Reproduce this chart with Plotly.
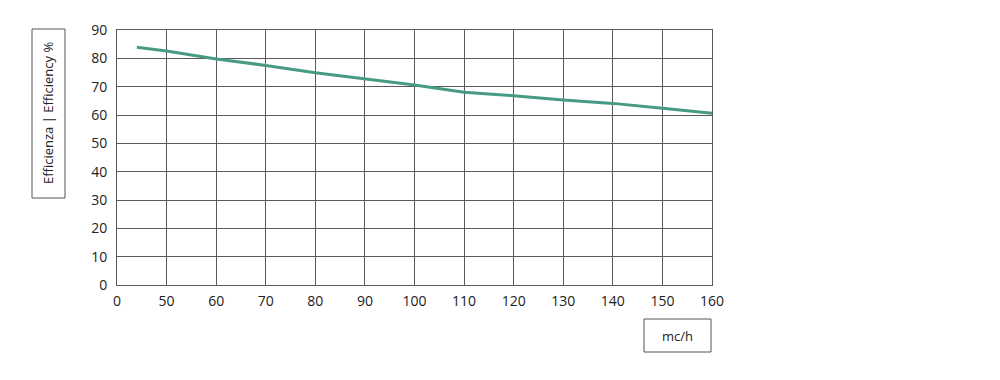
import plotly.graph_objects as go

# Data
flow = [44, 50, 60, 70, 80, 85, 90, 100, 110, 120, 130, 140, 150, 160]
efficiency = [83.9, 82.6, 79.8, 77.5, 74.9, 73.8, 72.6, 70.6, 68.0, 66.8, 65.3, 64.1, 62.4, 60.6]
x_tick_vals = [40, 50, 60, 70, 80, 90, 100, 110, 120, 130, 140, 150, 160]
x_tick_text = ["0", "50", "60", "70", "80", "90", "100", "110", "120", "130", "140", "150", "160"]
y_tick_vals = [0, 10, 20, 30, 40, 50, 60, 70, 80, 90]
y_label = "Efficienza | Efficiency %"
x_label = "mc/h"

W, H = 1000, 380
L, R, T, B = 117, 712, 30, 285

def px_x(p):
    return (p - L) / (R - L)

def px_y(p):
    return (B - p) / (B - T)

fig = go.Figure()
fig.add_trace(go.Scatter(x=flow, y=efficiency, mode="lines",
                         line=dict(color="#479b85", width=3), hoverinfo="skip"))

FAM = "Open Sans, sans-serif"
font = dict(family=FAM, size=14, color="#222222")
grid = "#5a5a5a"
fig.update_layout(
    width=W, height=H,
    margin=dict(l=L, r=W - R, t=T, b=H - B),
    paper_bgcolor="white", plot_bgcolor="white",
    showlegend=False, font=font,
    xaxis=dict(range=[40, 160], tickvals=x_tick_vals, ticktext=x_tick_text,
               showgrid=True, gridcolor=grid, gridwidth=1, zeroline=False,
               showline=True, linecolor=grid, linewidth=1, mirror=True,
               ticks="", ticklabelstandoff=3, fixedrange=True),
    yaxis=dict(range=[0, 90], tickvals=y_tick_vals,
               showgrid=True, gridcolor=grid, gridwidth=1, zeroline=False,
               showline=True, linecolor=grid, linewidth=1, mirror=True,
               ticks="", ticklabelstandoff=6, fixedrange=True),
)

# Y label box
fig.add_shape(type="rect", xref="paper", yref="paper",
              x0=px_x(32), x1=px_x(65), y0=px_y(198), y1=px_y(29),
              line=dict(color="#555555", width=1))
fig.add_annotation(xref="paper", yref="paper", x=px_x(48.5), y=px_y(113.5),
                   xanchor="center", yanchor="middle",
                   text=y_label, textangle=-90, showarrow=False,
                   font=dict(family=FAM, size=13, color="#222222"))
# X label box
fig.add_shape(type="rect", xref="paper", yref="paper",
              x0=px_x(644), x1=px_x(711), y0=px_y(352), y1=px_y(319),
              line=dict(color="#555555", width=1))
fig.add_annotation(xref="paper", yref="paper", x=px_x(677.5), y=px_y(335.5),
                   xanchor="center", yanchor="middle",
                   text=x_label, showarrow=False,
                   font=dict(family=FAM, size=13, color="#222222"))

fig.write_html("out.html")
